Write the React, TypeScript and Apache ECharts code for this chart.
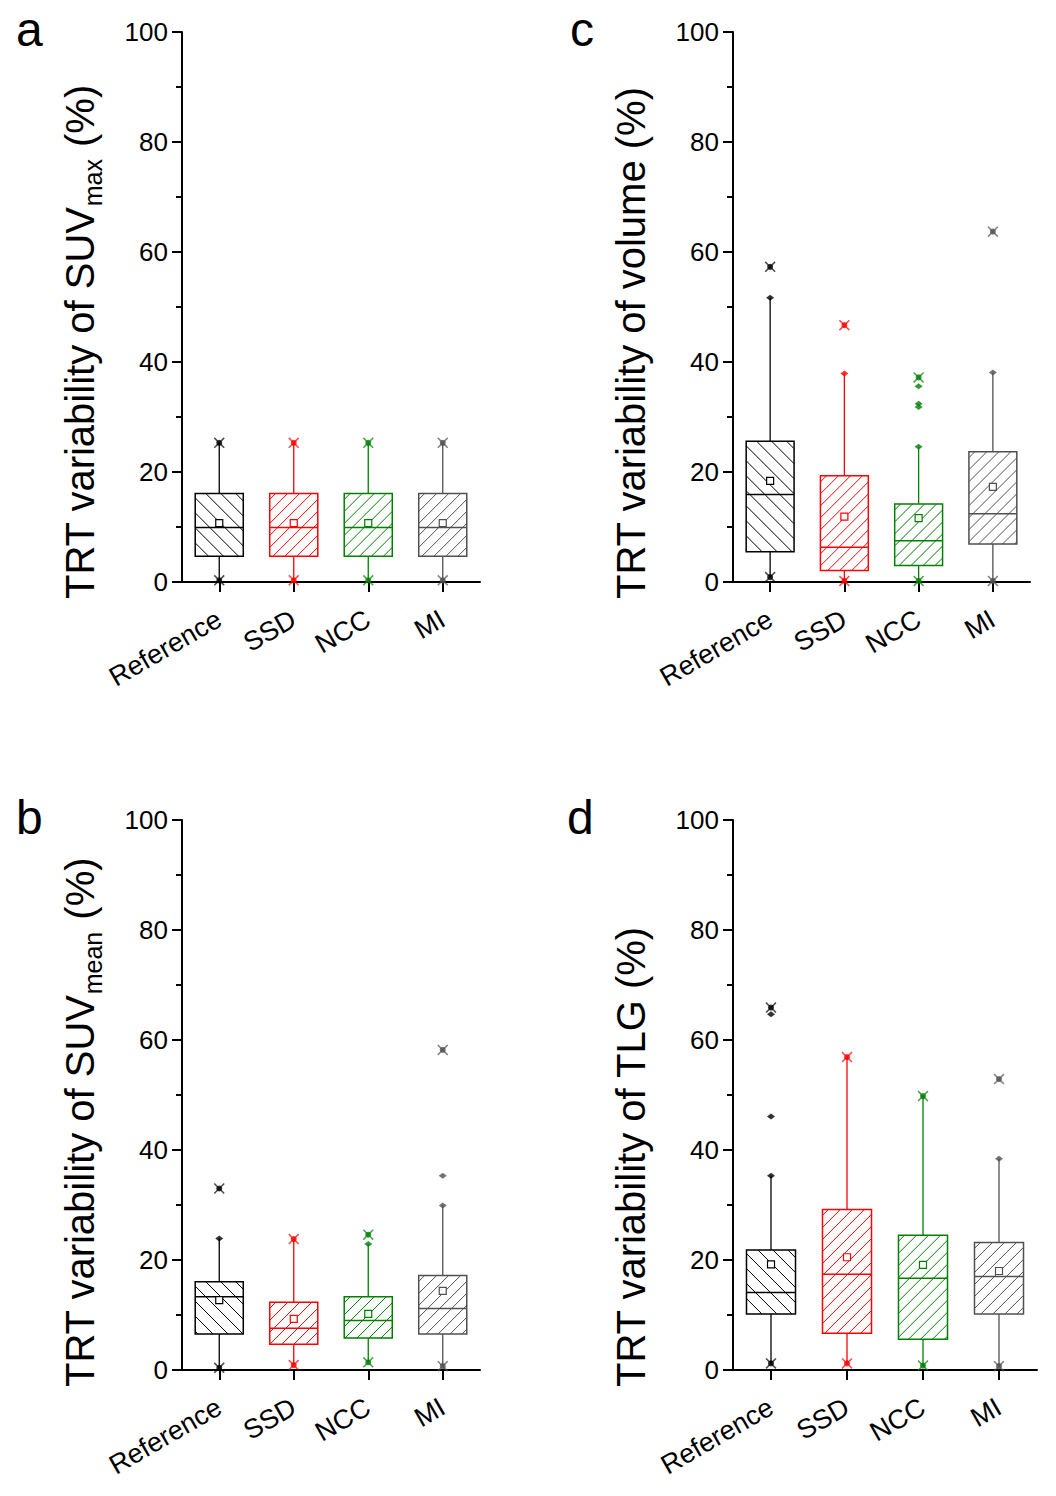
import React, { useEffect, useRef } from "react";
import * as echarts from "echarts";

const FONT = "'Liberation Sans', Arial, sans-serif";
const CATEGORIES = ["Reference", "SSD", "NCC", "MI"];
const COLORS = ["#000000", "#ff0000", "#008000", "#505050"];
const Y_TICKS = [0, 20, 40, 60, 80, 100];

// Panel a: SUVmax
const A_Q1 = [4.7, 4.7, 4.7, 4.7];
const A_MED = [9.9, 9.9, 9.9, 9.9];
const A_Q3 = [16.1, 16.1, 16.1, 16.1];
const A_MEAN = [10.7, 10.7, 10.7, 10.7];
const A_WLOW = [0.3, 0.3, 0.3, 0.3];
const A_WHIGH = [25.3, 25.3, 25.3, 25.3];
const A_STARS = [[0, 25.3], [0, 0.3], [1, 25.3], [1, 0.3], [2, 25.3], [2, 0.3], [3, 25.3], [3, 0.3]];
const A_DOTS: number[][] = [];

// Panel c: volume
const C_Q1 = [5.5, 2.1, 3.0, 6.9];
const C_MED = [15.9, 6.3, 7.5, 12.4];
const C_Q3 = [25.6, 19.3, 14.2, 23.7];
const C_MEAN = [18.4, 11.9, 11.6, 17.3];
const C_WLOW = [0.9, 0.2, 0.2, 0.2];
const C_WHIGH = [51.7, 37.9, 24.6, 38.1];
const C_STARS = [[0, 57.3], [0, 0.9], [1, 46.7], [1, 0.2], [2, 37.2], [2, 0.2], [3, 63.7], [3, 0.2]];
const C_DOTS = [[0, 51.7], [1, 37.9], [2, 24.6], [2, 35.6], [2, 32.4], [2, 31.8], [3, 38.1]];

// Panel b: SUVmean
const B_Q1 = [6.55, 4.7, 5.8, 6.55];
const B_MED = [13.3, 7.6, 9.0, 11.2];
const B_Q3 = [16.05, 12.3, 13.3, 17.2];
const B_MEAN = [12.7, 9.3, 10.2, 14.4];
const B_WLOW = [0.4, 0.9, 1.4, 0.7];
const B_WHIGH = [23.9, 23.8, 22.9, 29.9];
const B_STARS = [[0, 33.0], [0, 0.4], [1, 23.8], [1, 0.9], [2, 24.6], [2, 1.4], [3, 58.2], [3, 0.7]];
const B_DOTS = [[0, 23.9], [2, 22.9], [3, 29.9], [3, 35.3]];

// Panel d: TLG
const D_Q1 = [10.2, 6.7, 5.6, 10.2];
const D_MED = [14.1, 17.4, 16.7, 17.0];
const D_Q3 = [21.8, 29.2, 24.5, 23.2];
const D_MEAN = [19.2, 20.5, 19.1, 18.0];
const D_WLOW = [1.2, 1.2, 0.8, 0.7];
const D_WHIGH = [35.3, 56.9, 49.8, 38.4];
const D_STARS = [[0, 65.9], [0, 1.2], [1, 56.9], [1, 1.2], [2, 49.8], [2, 0.8], [3, 52.9], [3, 0.7]];
const D_DOTS = [[0, 35.3], [0, 46.1], [0, 64.7], [3, 38.4]];

const X_PATH = "path://M0,1 L1,0 L5,4 L9,0 L10,1 L6,5 L10,9 L9,10 L5,6 L1,10 L0,9 L4,5 Z";

type Panel = {
  letter: string;
  grid: { left: number; top: number; width: number; height: number };
  q1: number[]; med: number[]; q3: number[]; mean: number[]; wl: number[]; wh: number[];
  stars: number[][]; dots: number[][];
  title: { text: string; sub?: boolean }[];
  titleBaseX: number;
  letterX: number;
};

const PANELS: Panel[] = [
  { letter: "a", grid: { left: 182, top: 32, width: 298, height: 550 }, q1: A_Q1, med: A_MED, q3: A_Q3, mean: A_MEAN, wl: A_WLOW, wh: A_WHIGH, stars: A_STARS, dots: A_DOTS,
    title: [{ text: "TRT variability of SUV" }, { text: "max", sub: true }, { text: " (%)" }], titleBaseX: 94, letterX: 16 },
  { letter: "c", grid: { left: 733, top: 32, width: 297, height: 550 }, q1: C_Q1, med: C_MED, q3: C_Q3, mean: C_MEAN, wl: C_WLOW, wh: C_WHIGH, stars: C_STARS, dots: C_DOTS,
    title: [{ text: "TRT variability of volume (%)" }], titleBaseX: 645, letterX: 570 },
  { letter: "b", grid: { left: 182, top: 820, width: 298, height: 550 }, q1: B_Q1, med: B_MED, q3: B_Q3, mean: B_MEAN, wl: B_WLOW, wh: B_WHIGH, stars: B_STARS, dots: B_DOTS,
    title: [{ text: "TRT variability of SUV" }, { text: "mean", sub: true }, { text: " (%)" }], titleBaseX: 94, letterX: 16 },
  { letter: "d", grid: { left: 733, top: 820, width: 304, height: 550 }, q1: D_Q1, med: D_MED, q3: D_Q3, mean: D_MEAN, wl: D_WLOW, wh: D_WHIGH, stars: D_STARS, dots: D_DOTS,
    title: [{ text: "TRT variability of TLG (%)" }], titleBaseX: 645, letterX: 567 },
];

const MAIN_SIZE = 40;
const SUB_SIZE = 25;

function renderBox(params: any, api: any) {
  const cat = api.value(0);
  const q1 = api.value(1), med = api.value(2), q3 = api.value(3), mean = api.value(4), wl = api.value(5), wh = api.value(6);
  const pQ1 = api.coord([cat, q1]);
  const cx = pQ1[0];
  const yQ1 = pQ1[1];
  const yMed = api.coord([cat, med])[1];
  const yQ3 = api.coord([cat, q3])[1];
  const yMean = api.coord([cat, mean])[1];
  const yWl = api.coord([cat, wl])[1];
  const yWh = api.coord([cat, wh])[1];
  const band = api.size([1, 0])[0];
  const w = band * 0.645;
  const x0 = cx - w / 2, x1 = cx + w / 2;
  const y0 = yQ3, y1 = yQ1;
  const color = COLORS[cat];
  const children: any[] = [];
  const s = cat === 0 ? 15 : 12;
  if (cat === 0) {
    for (let c = y0 - x1 + s / 2; c < y1 - x0; c += s) {
      const xa = Math.max(x0, y0 - c), xb = Math.min(x1, y1 - c);
      if (xb > xa) children.push({ type: "line", shape: { x1: xa, y1: xa + c, x2: xb, y2: xb + c }, style: { stroke: color, lineWidth: 1 } });
    }
  } else {
    for (let c = x0 + y0 + s / 2; c < x1 + y1; c += s) {
      const xa = Math.max(x0, c - y1), xb = Math.min(x1, c - y0);
      if (xb > xa) children.push({ type: "line", shape: { x1: xa, y1: c - xa, x2: xb, y2: c - xb }, style: { stroke: color, lineWidth: 1 } });
    }
  }
  children.push({ type: "line", shape: { x1: cx, y1: yQ3, x2: cx, y2: yWh }, style: { stroke: color, lineWidth: 1.3 } });
  children.push({ type: "line", shape: { x1: cx, y1: yQ1, x2: cx, y2: yWl }, style: { stroke: color, lineWidth: 1.3 } });
  children.push({ type: "rect", shape: { x: x0, y: y0, width: w, height: y1 - y0 }, style: { fill: "none", stroke: color, lineWidth: 1.5 } });
  children.push({ type: "line", shape: { x1: x0, y1: yMed, x2: x1, y2: yMed }, style: { stroke: color, lineWidth: 1.5 } });
  children.push({ type: "rect", shape: { x: cx - 3.5, y: yMean - 3.5, width: 7, height: 7 }, style: { fill: "#ffffff", stroke: color, lineWidth: 1.2 } });
  return { type: "group", children };
}

export default function App() {
  const ref = useRef<HTMLDivElement>(null);
  useEffect(() => {
    if (!ref.current) return;
    const chart = echarts.init(ref.current, undefined, { renderer: "svg" });
    const canvas = document.createElement("canvas");
    const ctx = canvas.getContext("2d")!;
    const measure = (t: string, size: number) => {
      ctx.font = `${size}px 'Liberation Sans', Arial, sans-serif`;
      return ctx.measureText(t).width;
    };

    const grids: any[] = [];
    const xAxes: any[] = [];
    const yAxes: any[] = [];
    const series: any[] = [];
    const graphics: any[] = [];

    PANELS.forEach((p, i) => {
      grids.push({ ...p.grid, containLabel: false });
      xAxes.push({
        gridIndex: i, type: "category", data: CATEGORIES, boundaryGap: true,
        axisLine: { show: true, lineStyle: { color: "#000", width: 2 } },
        axisTick: { show: true, alignWithLabel: true, length: 10, lineStyle: { color: "#000", width: 2 } },
        axisLabel: { rotate: 30, fontSize: 27, color: "#000", fontFamily: FONT, margin: 35, interval: 0 },
        splitLine: { show: false },
      });
      yAxes.push({
        gridIndex: i, type: "value", min: Y_TICKS[0], max: Y_TICKS[Y_TICKS.length - 1], interval: 20,
        axisLine: { show: true, lineStyle: { color: "#000", width: 2 } },
        axisTick: { show: true, inside: false, length: 10, lineStyle: { color: "#000", width: 2 } },
        minorTick: { show: true, splitNumber: 2, length: 6, lineStyle: { color: "#000", width: 2 } },
        splitLine: { show: false },
        axisLabel: { fontSize: 26, color: "#000", fontFamily: FONT, margin: 14 },
      });
      const boxes = CATEGORIES.map((_, k) => [k, p.q1[k], p.med[k], p.q3[k], p.mean[k], p.wl[k], p.wh[k]]);
      series.push({
        type: "custom", xAxisIndex: i, yAxisIndex: i, renderItem: renderBox, data: boxes,
        encode: { x: 0, y: [1, 2, 3, 4, 5, 6] }, z: 2, silent: true,
      });
      series.push({
        type: "scatter", xAxisIndex: i, yAxisIndex: i, data: p.stars, symbol: X_PATH, symbolSize: 11,
        itemStyle: { color: (q: any) => COLORS[q.data[0]], opacity: 0.7 }, z: 3, silent: true,
      });
      series.push({
        type: "scatter", xAxisIndex: i, yAxisIndex: i, data: p.stars, symbol: "circle", symbolSize: 6,
        itemStyle: { color: (q: any) => COLORS[q.data[0]] }, z: 4, silent: true,
      });
      series.push({
        type: "scatter", xAxisIndex: i, yAxisIndex: i, data: p.dots, symbol: "diamond", symbolSize: [8, 6],
        itemStyle: { color: (q: any) => COLORS[q.data[0]] }, z: 4, silent: true,
      });

      // panel letter
      const letterBase = p.grid.top + 14;
      graphics.push({
        type: "text", x: p.letterX, y: letterBase - 0.3465 * 48,
        style: { text: p.letter, font: `48px ${FONT}`, fill: "#000", textAlign: "left", textVerticalAlign: "middle" },
      });

      // rotated title
      let yPos = p.grid.top + p.grid.height + 17;
      p.title.forEach((part) => {
        const size = part.sub ? SUB_SIZE : MAIN_SIZE;
        const base = part.sub ? p.titleBaseX + 8 : p.titleBaseX;
        graphics.push({
          type: "text", x: base - 0.3465 * size, y: yPos, rotation: Math.PI / 2,
          style: { text: part.text, font: `${size}px ${FONT}`, fill: "#000", textAlign: "left", textVerticalAlign: "middle" },
        });
        yPos -= measure(part.text, size) + (part.sub ? 1 : 0);
      });
    });

    chart.setOption({
      animation: false,
      backgroundColor: "#ffffff",
      grid: grids,
      xAxis: xAxes,
      yAxis: yAxes,
      series,
      graphic: graphics,
    });
    return () => chart.dispose();
  }, []);
  return <div ref={ref} style={{ position: "absolute", left: 0, top: 0, width: 1056, height: 1496 }} />;
}
